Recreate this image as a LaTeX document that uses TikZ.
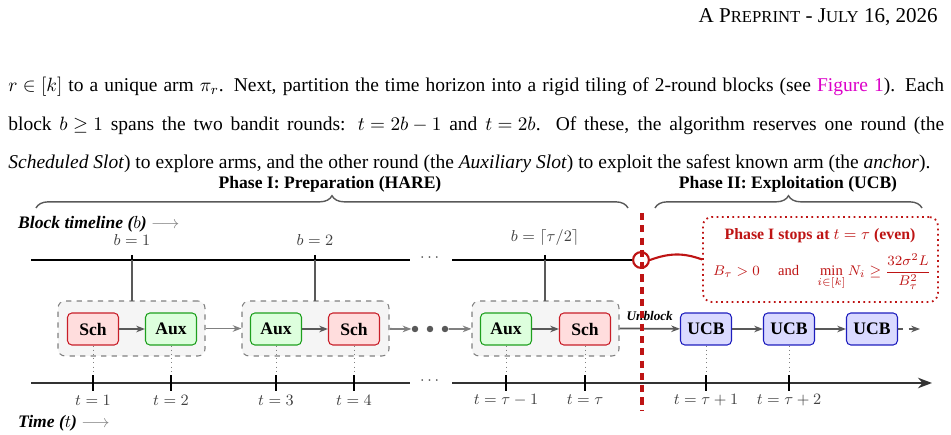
\documentclass[tikz,border=0pt]{standalone}
\usepackage{amsmath,amssymb}
\usepackage{fontspec}
\setmainfont{Liberation Serif}
\usetikzlibrary{arrows.meta,decorations.pathreplacing}
\definecolor{schf}{RGB}{255,221,221}\definecolor{schd}{RGB}{200,30,40}
\definecolor{auxf}{RGB}{221,255,221}\definecolor{auxd}{RGB}{30,160,30}
\definecolor{ucbf}{RGB}{218,218,255}\definecolor{ucbd}{RGB}{30,30,190}
\definecolor{redd}{RGB}{190,20,20}
\definecolor{lnk}{RGB}{220,0,200}
\newcommand{\fsc}[1]{{\fontsize{9.5}{11}\selectfont #1}}
\begin{document}
\begin{tikzpicture}[x=0.02cm,y=-0.02cm,
 box/.style={draw,rounded corners=2.5pt,minimum width=1.02cm,minimum height=0.64cm,font=\bfseries\fontsize{10}{12}\selectfont,line width=0.6pt},
 sch/.style={box,fill=schf,draw=schd},
 aux/.style={box,fill=auxf,draw=auxd},
 ucb/.style={box,fill=ucbf,draw=ucbd},
 grp/.style={draw=gray,dashed,fill=black!4,rounded corners=4pt,line width=0.6pt},
 ga/.style={-{Stealth[length=5pt]},gray!70!black,line width=1pt},
 lg/.style={-{Stealth[length=5pt]},gray,line width=1pt},
 lab/.style={font=\fontsize{9}{10}\selectfont,text=black!75},
 dots/.style={gray,dotted},
 tk/.style={line width=0.8pt}]
\useasboundingbox (0,0) rectangle (951,435);
% header and paragraph
\node[anchor=east,font=\fontsize{12}{14}\selectfont] (hd) at (944,17) {A P\fsc{REPRINT} - J\fsc{ULY} 16, 2026};
\node[anchor=west,inner sep=0,font=\fontsize{11.1}{22}\selectfont] (p) at (8,125) {\parbox{18.72cm}{\thickmuskip=5mu\medmuskip=4mu $r\in[k]$ to a unique arm $\pi_r$. Next, partition the time horizon into a rigid tiling of 2-round blocks (see \textcolor{lnk}{Figure 1}). Each\linebreak block $b\geq 1$ spans the two bandit rounds: $t=2b-1$ and $t=2b$. Of these, the algorithm reserves one round (the\linebreak \textit{Scheduled Slot}) to explore arms, and the other round (the \textit{Auxiliary Slot}) to exploit the safest known arm (the \textit{anchor}).}};
% braces
\coordinate (b1s) at (36,208); \coordinate (b1e) at (628,208);
\coordinate (b2s) at (655,208); \coordinate (b2e) at (922,208);
\draw[gray!70!black,line width=0.8pt,decorate,decoration={brace,amplitude=7pt}] (b1s) -- (b1e);
\draw[gray!70!black,line width=0.8pt,decorate,decoration={brace,amplitude=7pt}] (b2s) -- (b2e);
\node[font=\bfseries\fontsize{10}{12}\selectfont] (ph1) at (330,184) {Phase I: Preparation (HARE)};
\node[font=\bfseries\fontsize{10}{12}\selectfont] (ph2) at (788,184) {Phase II: Exploitation (UCB)};
\node[anchor=west,font=\bfseries\itshape\fontsize{10}{12}\selectfont] (bt) at (12,224) {Block timeline ($b$) \textcolor{gray}{$\longrightarrow$}};
\node[anchor=west,font=\bfseries\itshape\fontsize{10}{12}\selectfont] (tt) at (12,423) {Time ($t$) \textcolor{gray}{$\longrightarrow$}};
% block timeline
\coordinate (bl0) at (31,260); \coordinate (bl1) at (410,260); \coordinate (bl2) at (452,260);
\draw[line width=1.2pt] (bl0) -- (bl1);
\node[lab] (bd) at (431,258) {$\cdots$};
\node[draw=redd,fill=white,circle,line width=1.2pt,inner sep=0,minimum size=9pt] (circ) at (641,260) {};
\draw[line width=1.2pt] (bl2) -- (circ);
% groups
\node[grp,minimum width=2.94cm,minimum height=1.1cm] (g1) at (131.5,328.5) {};
\node[grp,minimum width=2.94cm,minimum height=1.1cm] (g2) at (315.5,328.5) {};
\node[grp,minimum width=2.94cm,minimum height=1.1cm] (g3) at (545.5,328.5) {};
\node[sch] (s1) at (93,329) {Sch}; \node[aux] (a1) at (171,329) {Aux};
\node[aux] (a2) at (276,329) {Aux}; \node[sch] (s2) at (354,329) {Sch};
\node[aux] (a3) at (506,329) {Aux}; \node[sch] (s3) at (585,329) {Sch};
\node[ucb] (u1) at (706,329) {UCB}; \node[ucb] (u2) at (789,329) {UCB}; \node[ucb] (u3) at (872,329) {UCB};
\foreach \x/\n/\l in {132/1/{$b=1$},315/2/{$b=2$},545/3/{$b=\lceil\tau/2\rceil$}}{
 \coordinate (bk\n) at (\x,260);
 \draw[tk] (\x,255) -- (\x,265);
 \node[lab,above] at (\x,252) {\l};
 \draw[gray!70!black,line width=0.7pt] (bk\n) -- (\x,301);}
% arrows
\draw[ga] (s1) -- (a1); \draw[ga] (a2) -- (s2); \draw[ga] (a3) -- (s3);
\draw[lg] (g1) -- (g2);
\node[fill=gray!70!black,circle,inner sep=1.3pt] (d1) at (415,329) {};
\node[fill=gray!70!black,circle,inner sep=1.3pt] (d2) at (430,329) {};
\node[fill=gray!70!black,circle,inner sep=1.3pt] (d3) at (445,329) {};
\draw[lg] (g2) -- (d1); \draw[lg] (d3) -- (g3);
\draw[ga] (g3.east) -- node[above=1pt,font=\bfseries\itshape\fontsize{7.5}{8}\selectfont,text=black] {Unblock} (u1);
\draw[ga] (u1) -- (u2); \draw[ga] (u2) -- (u3);
\coordinate (ue) at (920,329);
\draw[ga,dashed] (u3) -- (ue);
% time axis
\coordinate (ta0) at (31,383); \coordinate (ta1) at (410,383); \coordinate (ta2) at (452,383); \coordinate (ta3) at (932,383);
\draw[line width=1pt,black!80] (ta0) -- (ta1);
\node[lab] (td) at (431,381) {$\cdots$};
\draw[line width=1pt,black!80,-{Stealth[length=8pt]}] (ta2) -- (ta3);
\foreach \n/\l in {s1/{$t=1$},a1/{$t=2$},a2/{$t=3$},s2/{$t=4$},a3/{$t=\tau-1$},s3/{$t=\tau$},u1/{$t=\tau+1$},u2/{$t=\tau+2$}}{
 \draw[dots] (\n.south) -- (\n.south |- ta0);
 \draw[tk] ([yshift=-4.5pt]\n.south |- ta0) -- ([yshift=4.5pt]\n.south |- ta0);
 \node[lab] at (\n.south |- 0,400) {\l};}
% phase boundary
\coordinate (rv0) at (642,213); \coordinate (rv1) at (642,410);
\draw[redd,line width=1.8pt,dash pattern=on 4pt off 3pt] (rv0) -- (rv1);
\node[draw=redd,dotted,line width=1pt,rounded corners=5pt,minimum width=4.7cm,minimum height=1.7cm,fill=white] (cond) at (820.5,259.5) {};
\node[text=redd,font=\bfseries\fontsize{9}{11}\selectfont] (ct) at (820,236) {Phase I stops at $t=\tau$ (even)};
\node[text=redd,font=\fontsize{8.3}{10}\selectfont] (cm) at (822,272) {$B_\tau>0\quad$ and $\quad\displaystyle\min_{i\in[k]}N_i\geq\frac{32\sigma^2L}{B_\tau^2}$};
\draw[redd,line width=1.2pt] (circ.east) to[out=20,in=160] (cond.west);
\end{tikzpicture}
\end{document}
